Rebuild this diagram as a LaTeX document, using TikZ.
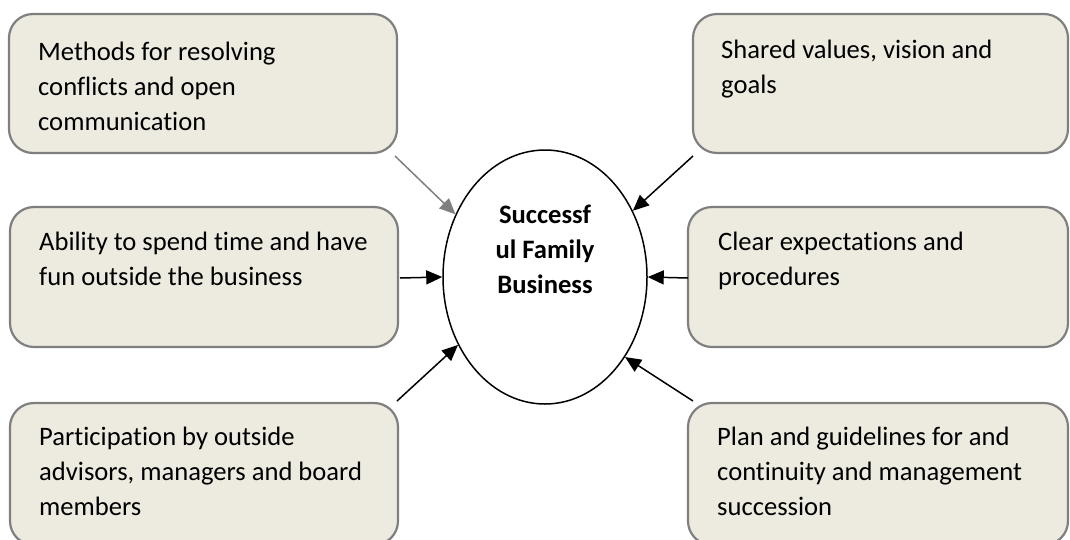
\documentclass[tikz,border=0pt]{standalone}
\usepackage{fontspec}
\setmainfont{Carlito}[Ligatures=NoCommon]
\usetikzlibrary{arrows.meta,shapes.geometric}
\definecolor{boxfill}{HTML}{EDEBE0}
\definecolor{boxline}{HTML}{7F7F7F}
\begin{document}
\begin{tikzpicture}[x=1pt,y=-1pt,
  box/.style={draw=boxline, line width=2.2pt, fill=boxfill, rounded corners=24pt,
    anchor=north west, inner sep=0pt, outer sep=0pt},
  boxtext/.style={anchor=north west, inner sep=0pt, align=left,
    font=\fontsize{26.6}{35}\selectfont},
  arr/.style={line width=1.5pt, -{Triangle[length=16pt,width=14pt]}},
  garr/.style={arr, draw=boxline, fill=boxline}
]
\useasboundingbox (0,0) rectangle (1070,539);
% boxes
\node[box, minimum width=388pt, minimum height=139pt] (tl) at (9,14) {};
\node[box, minimum width=375pt, minimum height=139pt] (tr) at (693,14) {};
\node[box, minimum width=388pt, minimum height=140pt] (ml) at (10,207) {};
\node[box, minimum width=380pt, minimum height=140pt] (mr) at (688,207) {};
\node[box, minimum width=388pt, minimum height=142pt] (bl) at (10,403) {};
\node[box, minimum width=380pt, minimum height=142pt] (br) at (688,403) {};
% texts
\node[boxtext] (tltext) at (38,42) {Methods for resolving\\conflicts and open\\communication};
\node[boxtext] (trtext) at (721,40) {Shared values, vision and\\goals};
\node[boxtext] (mltext) at (39,232) {Ability to spend time and have\\fun outside the business};
\node[boxtext] (mrtext) at (718,232) {Clear expectations and\\procedures};
\node[boxtext] (bltext) at (39,427) {Participation by outside\\advisors, managers and board\\members};
\node[boxtext] (brtext) at (717,427) {Plan and guidelines for and\\continuity and management\\succession};
% centre
\node[ellipse, draw, line width=1.5pt, minimum width=204pt, minimum height=254pt, inner sep=0pt] (ell) at (545,277) {};
\node[anchor=north, align=center, inner sep=0pt, font=\fontsize{26.6}{35}\selectfont\bfseries] (elltext) at (545,205) {Successf\\ul Family\\Business};
% connectors
\draw[garr] ([shift={(-2,3)}]tl.south east) -- (ell.145.7);
\draw[arr] ([shift={(0,3)}]tr.south west) -- (ell.37.3);
\draw[arr] ([shift={(2,1)}]ml.east) -- (ell.west);
\draw[arr] ([shift={(0,1)}]mr.west) -- (ell.east);
\draw[arr] ([shift={(-1,-2)}]bl.north east) -- (ell.218.5);
\draw[arr] ([shift={(5,-2)}]br.north west) -- (ell.315);
\end{tikzpicture}
\end{document}
